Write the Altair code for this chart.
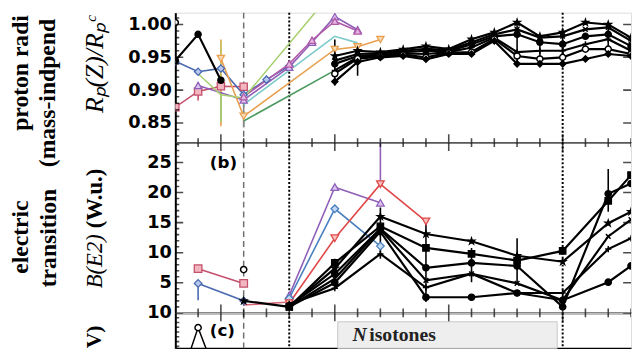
import altair as alt
import pandas as pd

# ---------------- layout ----------------
W = 463
HA, HB, HC = 132, 173, 36
Z_DOMAIN = [16, 56]
A_DOMAIN = [0.82, 1.018]
B_DOMAIN = [0, 28.3]
C_DOMAIN = [8.15, 10]

# ---------------- tick values ----------------
X_MAJOR = [20, 30, 40, 50]
X_MINOR = [16, 18, 22, 24, 26, 28, 32, 34, 36, 38, 42, 44, 46, 48, 52, 54, 56]
A_MAJOR = [0.85, 0.90, 0.95, 1.00]
A_MINOR = [0.83, 0.84, 0.86, 0.87, 0.88, 0.89, 0.91, 0.92, 0.93, 0.94,
           0.96, 0.97, 0.98, 0.99, 1.01]
B_MAJOR = [5, 10, 15, 20, 25]
B_MINOR = [1, 2, 3, 4, 6, 7, 8, 9, 11, 12, 13, 14, 16, 17, 18, 19,
           21, 22, 23, 24, 26, 27, 28]
C_MAJOR = [10]
C_MINOR = [8.25, 8.5, 8.75, 9.0, 9.25, 9.5, 9.75]

DASHED_Z = [22]
DOTTED_Z = [26, 50]

# ---------------- panel (a): proton radii ratio ----------------
a_red_z = [16, 18, 20, 22]
a_red_v = [0.874, 0.898, 0.906, 0.905]
a_blue_z = [16, 18, 20, 22, 24, 26]
a_blue_v = [0.944, 0.928, 0.933, 0.893, 0.916, 0.937]
a_purple_z = [18, 22, 26, 28, 30, 32]
a_purple_v = [0.907, 0.885, 0.935, 0.973, 1.012, 0.992]
a_magenta_z = [22, 26, 28, 30, 32]
a_magenta_v = [0.890, 0.940, 0.976, 1.005, 0.990]
a_teal_z = [22, 30, 32]
a_teal_v = [0.878, 0.982, 0.972]
a_orange_z = [20, 22, 30, 32, 34]
a_orange_v = [0.948, 0.860, 0.962, 0.966, 0.977]
a_dkgreen_z = [22, 30]
a_dkgreen_v = [0.853, 0.930]
a_ltgreen_z = [18, 20, 22, 30]
a_ltgreen_v = [0.925, 0.893, 0.888, 1.054]
a_blk0_z = [16, 18, 20]
a_blk0_v = [0.945, 0.985, 0.915]
a_ring0_z = [16]
a_ring0_v = [1.003]

a_k_z = [30, 32, 34, 36, 38, 40, 42, 44, 46, 48, 50, 52, 54, 56]
a_k_star = [0.952, 0.960, 0.958, 0.962, 0.967, 0.9625, 0.9775, 0.988, 1.003, 0.982, 0.988, 1.003, 1.000, 0.980]
a_k_cross = [0.945, 0.955, 0.956, 0.960, 0.963, 0.961, 0.973, 0.985, 0.9925, 0.980, 0.982, 0.9925, 0.9955, 0.975]
a_k_dot = [0.940, 0.952, 0.954, 0.958, 0.960, 0.959, 0.970, 0.982, 0.985, 0.973, 0.970, 0.982, 0.985, 0.967]
a_k_plus = [0.930, 0.950, 0.952, 0.956, 0.955, 0.958, 0.965, 0.980, 0.958, 0.960, 0.960, 0.970, 0.9775, 0.960]
a_k_ring = [0.925, 0.948, 0.951, 0.954, 0.950, 0.957, 0.958, 0.978, 0.952, 0.9475, 0.950, 0.9625, 0.9625, 0.955]
a_k_diam = [0.913, 0.943, 0.950, 0.952, 0.947, 0.955, 0.955, 0.975, 0.940, 0.940, 0.940, 0.9475, 0.955, 0.952]

a_err_z = [20, 20, 18, 20, 22, 30, 32, 46, 48, 50, 54]
a_err_lo = [0.845, 0.850, 0.884, 0.852, 0.843, 0.907, 0.922, 0.938, 0.938, 0.937, 0.952]
a_err_hi = [0.977, 0.975, 0.912, 0.893, 0.880, 0.977, 0.967, 1.007, 0.985, 0.990, 1.003]
a_err_c = ["#e8a050", "#c8c060", "#c4506c", "#9ccc70", "#888888",
           "black", "black", "black", "black", "black", "black"]

# ---------------- panel (b): B(E2) ----------------
b_red_z = [18, 22]
b_red_v = [7.35, 4.9]
b_blue_z = [18, 22]
b_blue_v = [4.9, 2.0]
b_pink_z = [22, 26]
b_pink_v = [1.3, 1.8]
b_purple_z = [26, 30, 34]
b_purple_v = [2.9, 20.9, 18.3]
b_blue2_z = [26, 30, 34]
b_blue2_v = [2.4, 17.3, 11.1]
b_redtri_z = [26, 30, 34, 38]
b_redtri_v = [1.6, 12.4, 21.4, 15.2]
b_ring0_z = [22]
b_ring0_v = [7.2]

b_k0_z = [22, 26]
b_k0_v = [2.0, 1.0]
b_k_z = [26, 30, 34, 38, 42, 46, 50, 54, 56]
b_k_star = [1.0, 7.4, 16.0, 13.1, 11.9, 9.5, 8.5, 14.9, 16.8]
b_k_sq = [1.0, 8.3, 14.4, 10.8, 9.8, 8.7, 10.3, 18.6, 22.9]
b_k_dot = [1.2, 6.5, 14.0, 7.5, 8.3, 7.8, 1.0, 19.8, 21.5]
b_k_cross = [1.0, 5.7, 13.9, 5.4, 6.5, 4.9, 2.1, 12.7, 15.5]
b_k_plus = [1.5, 4.1, 9.8, 4.2, 6.5, 3.3, 3.3, 10.6, 12.4]
b_k_ring = [1.0, 5.0, 13.5, 2.6, 2.6, 3.3, 2.1, 5.1, 7.8]

b_err_z = [18, 34, 30, 34, 38, 42, 46, 50, 54]
b_err_lo = [2.1, 21.4, 4.0, 9.0, 1.8, 5.1, 4.9, 1.0, 16.8]
b_err_hi = [5.4, 28.3, 9.0, 17.5, 15.5, 10.8, 12.4, 3.8, 23.9]
b_err_c = ["#4a6ab0", "#9060b8", "black", "black", "black", "black", "black", "black", "black"]

# ---------------- panel (c) ----------------
c_z = [16, 18, 20]
c_v = [5.7, 9.23, 6.1]
c_ring_z = [18]
c_ring_v = [9.23]

# ---------------- styles ----------------
STAR = ("M0,-1L0.2245,-0.309L0.951,-0.309L0.363,0.118L0.588,0.809L0,0.382"
        "L-0.588,0.809L-0.363,0.118L-0.951,-0.309L-0.2245,-0.309Z")
XSHAPE = "M-0.75,-0.75L0.75,0.75M-0.75,0.75L0.75,-0.75"
PLUS = "M-1,0L1,0M0,-1L0,1"
ZW = "\u200b"

X_AXIS = alt.Axis(labels=False, ticks=False, domain=True, domainColor="black",
                  domainWidth=2, grid=False, title=None)


def long_df(rows):
    recs = []
    for name, zs, vs in rows:
        for z, v in zip(zs, vs):
            recs.append({"s": name, "z": z, "v": v})
    return pd.DataFrame(recs)


def xenc():
    return alt.X("z:Q", scale=alt.Scale(domain=Z_DOMAIN, nice=False, zero=False), axis=X_AXIS)


def make_yenc(domain, values, fmt):
    axis = alt.Axis(values=values, format=fmt, labelFont="DejaVu Sans", labelFontSize=18,
                    labelFontWeight="bold", labelColor="black", labelPadding=4,
                    ticks=False, tickSize=0, domain=True, domainColor="black",
                    domainWidth=2, grid=False, title=None, labelOverlap=False)

    def yenc():
        return alt.Y("v:Q", scale=alt.Scale(domain=domain, nice=False, zero=False), axis=axis)
    return yenc


def line_layer(rows, colors, width, yenc):
    names = [r[0] for r in rows]
    return alt.Chart(long_df(rows)).mark_line(clip=True, strokeWidth=width).encode(
        x=xenc(), y=yenc(),
        color=alt.Color("s:N", scale=alt.Scale(domain=names, range=colors), legend=None))


def point_layer(rows, strokes, fills, shapes, size, yenc, sw=1.3):
    names = [r[0] for r in rows]
    return alt.Chart(long_df(rows)).mark_point(clip=True, filled=True, size=size,
                                               strokeWidth=sw, opacity=1).encode(
        x=xenc(), y=yenc(),
        shape=alt.Shape("s:N", scale=alt.Scale(domain=names, range=shapes), legend=None),
        fill=alt.Fill("s:N", scale=alt.Scale(domain=names, range=fills), legend=None),
        stroke=alt.Stroke("s:N", scale=alt.Scale(domain=names, range=strokes), legend=None))


def err_layer(zs, lo, hi, cols, yenc):
    df = pd.DataFrame({"z": zs, "v": lo, "v2": hi, "c": cols})
    return alt.Chart(df).mark_rule(clip=True, strokeWidth=1.6).encode(
        x=xenc(), y=yenc(), y2="v2:Q", stroke=alt.Stroke("c:N", scale=None))


def vlines(yenc):
    d = alt.Chart(pd.DataFrame({"z": DASHED_Z})).mark_rule(
        color="#707070", strokeDash=[6, 4], strokeWidth=1.5).encode(x=xenc())
    o = alt.Chart(pd.DataFrame({"z": DOTTED_Z})).mark_rule(
        color="black", strokeDash=[2, 2], strokeWidth=2).encode(x=xenc())
    return [d, o]


def tick_layers(H, ymaj, ymin, yenc, top, bottom):
    out = []
    for vals, size in ((ymaj, 16), (ymin, 8)):
        df = pd.DataFrame({"v": vals})
        out.append(alt.Chart(df).mark_tick(orient="horizontal", size=size, thickness=1.6,
                                           color="black", clip=True).encode(
            x=alt.value(0), y=yenc()))
    out.append(alt.Chart(pd.DataFrame({"v": ymaj})).mark_tick(
        orient="horizontal", size=16, thickness=1.6, color="black", clip=True).encode(
        x=alt.value(W), y=yenc()))
    edges = []
    if top:
        edges.append(0)
    if bottom:
        edges.append(H)
    for e in edges:
        for vals, size in ((X_MAJOR, 17), (X_MINOR, 9)):
            df = pd.DataFrame({"z": vals})
            out.append(alt.Chart(df).mark_tick(orient="vertical", size=size, thickness=1.6,
                                               color="black", clip=True).encode(
                x=xenc(), y=alt.value(e)))
    return out


def text(t, x, y, **kw):
    return alt.Chart(pd.DataFrame({"t": [t]})).mark_text(**kw).encode(
        x=alt.value(x), y=alt.value(y), text="t:N")


SERIF = "Liberation Serif"

# ---------------- panel (a) ----------------
ya = make_yenc(A_DOMAIN, A_MAJOR, ".2f")
a_col_rows = [("red", a_red_z, a_red_v), ("blue", a_blue_z, a_blue_v),
              ("purple", a_purple_z, a_purple_v), ("magenta", a_magenta_z, a_magenta_v),
              ("teal", a_teal_z, a_teal_v), ("orange", a_orange_z, a_orange_v),
              ("dkgreen", a_dkgreen_z, a_dkgreen_v), ("ltgreen", a_ltgreen_z, a_ltgreen_v)]
a_col_colors = ["#c4506c", "#4a6ab0", "#9060b8", "#b05aa8", "#7ccaca", "#e8a050",
                "#4a9a60", "#a8d070"]
a_pt_rows = [("red", a_red_z, a_red_v), ("blue", a_blue_z, a_blue_v),
             ("purple", a_purple_z, a_purple_v), ("magenta", a_magenta_z, a_magenta_v),
             ("orange", a_orange_z, a_orange_v)]
a_k_rows = [("k0", a_blk0_z, a_blk0_v), ("ks", a_k_z, a_k_star), ("kx", a_k_z, a_k_cross),
            ("kd", a_k_z, a_k_dot), ("kp", a_k_z, a_k_plus), ("kr", a_k_z, a_k_ring),
            ("kq", a_k_z, a_k_diam)]
a_kpt_rows = a_k_rows + [("ring0", a_ring0_z, a_ring0_v)]

panel_a = alt.layer(
    *vlines(ya),
    err_layer(a_err_z, a_err_lo, a_err_hi, a_err_c, ya),
    line_layer(a_col_rows, a_col_colors, 1.6, ya),
    point_layer(a_pt_rows, ["#c4506c", "#4a6ab0", "#9060b8", "#b05aa8", "#e8a050"],
                ["#f2b6c0", "#b8c8ee", "#dcc6f2", "#e8b8e0", "#f8d8b0"],
                ["square", "diamond", "triangle-up", "triangle-up", "triangle-down"], 55, ya),
    line_layer(a_k_rows, ["black"] * 7, 2.2, ya),
    point_layer(a_kpt_rows, ["black"] * 8,
                ["black", "black", "transparent", "black", "transparent", "white", "black", "white"],
                ["circle", STAR, XSHAPE, "circle", PLUS, "circle", "diamond", "circle"], 38, ya, sw=1.5),
    *tick_layers(HA, A_MAJOR, A_MINOR, ya, top=False, bottom=True),
    text("proton radii", -150, 120, angle=270, align="left", baseline="alphabetic",
         font=SERIF, fontSize=24, fontWeight="bold", limit=121, ellipsis=ZW, color="black"),
    text("(mass-indpendent)", -122, 157, angle=270, align="left", baseline="alphabetic",
         font=SERIF, fontSize=24, fontWeight="bold", limit=157, ellipsis=ZW, color="black"),
    text("R\u209a(Z)/R\u209a\u1d9c\u1d43\u02e1", -73, 102, angle=270, align="left",
         baseline="alphabetic", font=SERIF, fontSize=26, fontStyle="italic", limit=102,
         ellipsis=ZW, color="black"),
).resolve_scale(color="independent", fill="independent", stroke="independent",
                shape="independent").properties(width=W, height=HA)

# ---------------- panel (b) ----------------
yb = make_yenc(B_DOMAIN, B_MAJOR, "d")
b_col_rows = [("red", b_red_z, b_red_v), ("blue", b_blue_z, b_blue_v),
              ("pink", b_pink_z, b_pink_v), ("purple", b_purple_z, b_purple_v),
              ("blue2", b_blue2_z, b_blue2_v), ("redtri", b_redtri_z, b_redtri_v)]
b_col_colors = ["#c4506c", "#4a6ab0", "#d86878", "#9060b8", "#4a80c0", "#e04848"]
b_pt_rows = [("red", b_red_z, b_red_v), ("blue", b_blue_z, b_blue_v),
             ("purple", b_purple_z, b_purple_v), ("blue2", b_blue2_z, b_blue2_v),
             ("redtri", b_redtri_z, b_redtri_v)]
b_k_rows = [("k0", b_k0_z, b_k0_v), ("ks", b_k_z, b_k_star), ("kq", b_k_z, b_k_sq),
            ("kd", b_k_z, b_k_dot), ("kx", b_k_z, b_k_cross), ("kp", b_k_z, b_k_plus),
            ("kr", b_k_z, b_k_ring)]
b_kpt_rows = b_k_rows + [("ring0", b_ring0_z, b_ring0_v)]

panel_b = alt.layer(
    *vlines(yb),
    err_layer(b_err_z, b_err_lo, b_err_hi, b_err_c, yb),
    line_layer(b_col_rows, b_col_colors, 1.6, yb),
    point_layer(b_pt_rows, ["#c4506c", "#4a6ab0", "#9060b8", "#4a80c0", "#e04848"],
                ["#f2b6c0", "#b8c8ee", "#dcc6f2", "#c0d8f4", "#f8c0c0"],
                ["square", "diamond", "triangle-up", "diamond", "triangle-down"], 60, yb),
    line_layer(b_k_rows, ["black"] * 7, 2.2, yb),
    point_layer(b_kpt_rows, ["black"] * 8,
                ["black", "black", "black", "black", "transparent", "transparent", "black", "white"],
                [STAR, STAR, "square", "circle", XSHAPE, PLUS, "circle", "circle"], 40, yb, sw=1.5),
    *tick_layers(HB, B_MAJOR, B_MINOR, yb, top=True, bottom=True),
    text("(b)", 35, 21, align="left", baseline="middle", font="DejaVu Sans",
         fontSize=17, fontWeight="bold", color="black"),
    text("electric", -150, 96, angle=270, align="center", baseline="alphabetic",
         font=SERIF, fontSize=24, fontWeight="bold", color="black"),
    text("transition", -121, 97, angle=270, align="center", baseline="alphabetic",
         font=SERIF, fontSize=24, fontWeight="bold", color="black"),
    text("B(E2)", -74, 148, angle=270, align="left", baseline="alphabetic",
         font=SERIF, fontSize=23, fontStyle="italic", color="black"),
    text("(W.u.)", -74, 87, angle=270, align="left", baseline="alphabetic",
         font=SERIF, fontSize=23, fontWeight="bold", color="black"),
).resolve_scale(color="independent", fill="independent", stroke="independent",
                shape="independent").properties(width=W, height=HB)

# ---------------- panel (c) ----------------
yc = make_yenc(C_DOMAIN, C_MAJOR, "d")
panel_c = alt.layer(
    *vlines(yc),
    alt.Chart(pd.DataFrame({"t": ["box"]})).mark_rect(
        fill="#eeeeee", stroke="#c8c8c8", strokeWidth=1).encode(
        x=alt.value(165), x2=alt.value(388), y=alt.value(9), y2=alt.value(HC)),
    line_layer([("c", c_z, c_v)], ["black"], 1.5, yc),
    point_layer([("ring", c_ring_z, c_ring_v)], ["black"], ["white"], ["circle"], 40, yc, sw=1.5),
    *tick_layers(HC, C_MAJOR, C_MINOR, yc, top=True, bottom=False),
    text("(c)", 35, 18, align="left", baseline="middle", font="DejaVu Sans",
         fontSize=17, fontWeight="bold", color="black"),
    text("N", 180, 29, align="left", baseline="alphabetic", font=SERIF, fontSize=20,
         fontWeight="bold", fontStyle="italic", color="#222222"),
    text("isotones", 197, 29, align="left", baseline="alphabetic", font=SERIF, fontSize=20,
         fontWeight="bold", color="#222222"),
    text("V)", -76, 36, angle=270, align="left", baseline="alphabetic", font=SERIF,
         fontSize=22, fontWeight="bold", color="black"),
).resolve_scale(color="independent", fill="independent", stroke="independent",
                shape="independent").properties(width=W, height=HC)

chart = alt.vconcat(panel_a, panel_b, panel_c, spacing=0, bounds="flush",
                    padding={"left": 0, "top": 0, "right": 0, "bottom": 0}
                    ).configure_view(stroke=None).configure(background="white")

chart.save("out.html", embed_options={"renderer": "svg", "actions": False})
